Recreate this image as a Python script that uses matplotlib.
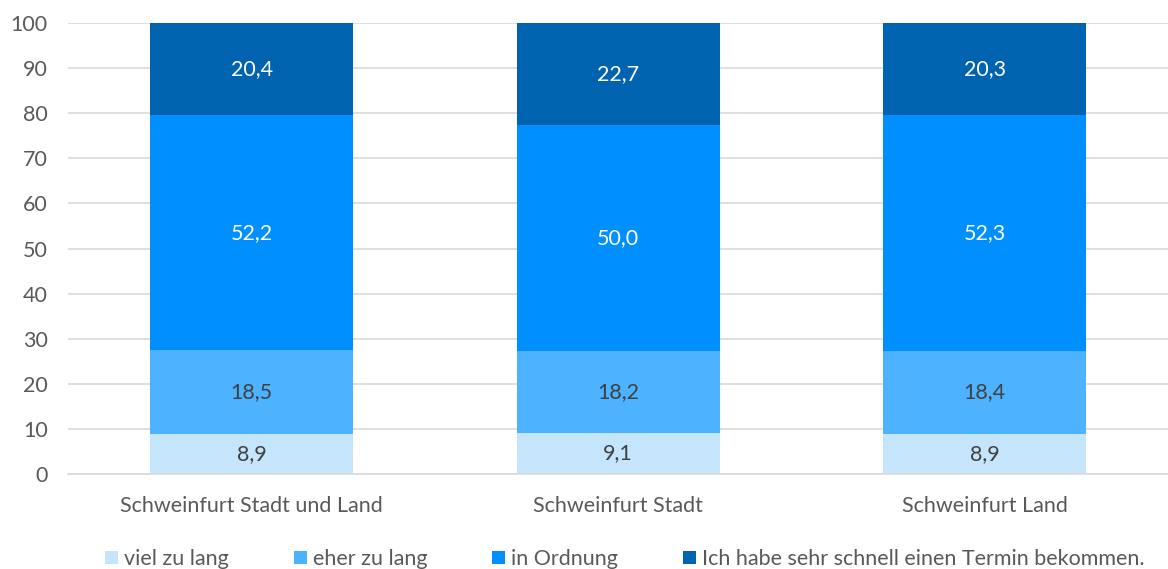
import matplotlib.pyplot as plt
import numpy as np

plt.rcParams['font.family'] = ['Lato', 'DejaVu Sans']

categories = ['Schweinfurt Stadt und Land', 'Schweinfurt Stadt', 'Schweinfurt Land']
series_names = ['viel zu lang', 'eher zu lang', 'in Ordnung',
                'Ich habe sehr schnell einen Termin bekommen.']
viel = [8.9, 9.1, 8.9]
eher = [18.5, 18.2, 18.4]
ordnung = [52.2, 50.0, 52.3]
schnell = [20.4, 22.7, 20.3]

colors = ['#C5E5FC', '#4DB2FF', '#008FFF', '#0063AF']
text_colors = ['#404040', '#404040', 'white', 'white']

fig = plt.figure(figsize=(11.68, 5.69), dpi=100)
ax = fig.add_axes([0.0586, 0.167, 0.9414, 0.7925])

x = np.arange(len(categories))
bottom = np.zeros(len(categories))
for vals, name, col, tc in zip([viel, eher, ordnung, schnell], series_names, colors, text_colors):
    vals = np.array(vals)
    ax.bar(x, vals, width=0.553, bottom=bottom, color=col, label=name)
    for xi, b, v in zip(x, bottom, vals):
        ax.text(xi, b + v / 2, f'{v:.1f}'.replace('.', ','), ha='center', va='center',
                color=tc, fontsize=15.5)
    bottom += vals

ax.set_xlim(-0.5, 2.5)
ax.set_ylim(0, 100)
ax.set_yticks(range(0, 101, 10))
ax.set_xticks(x)
ax.set_xticklabels(categories)
ax.tick_params(axis='both', length=0, labelsize=15.5, colors='#595959')
ax.tick_params(axis='x', pad=16)
ax.tick_params(axis='y', pad=15)
ax.grid(axis='y', color='#D9D9D9', linewidth=1.2)
ax.set_axisbelow(True)
for s in ['top', 'right', 'left']:
    ax.spines[s].set_visible(False)
ax.spines['bottom'].set_color('#D9D9D9')
ax.spines['bottom'].set_linewidth(1.2)

fig.legend(loc='lower center', bbox_to_anchor=(0.535, -0.034), ncol=4, frameon=False,
           fontsize=15.5, handlelength=0.6, handleheight=0.6, handletextpad=0.3,
           columnspacing=3.0, labelcolor='#595959')

fig.savefig('out.png', dpi=100)
